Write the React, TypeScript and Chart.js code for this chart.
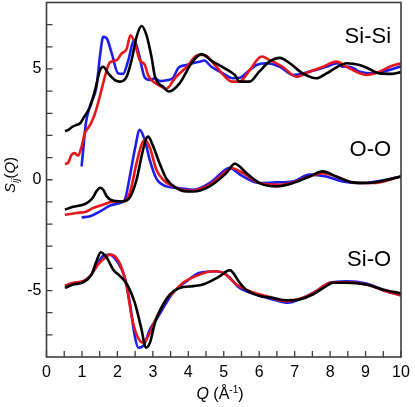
import React, { useEffect, useRef } from 'react';
import { Chart, registerables } from 'chart.js';
Chart.register(...registerables);

// Plotted values (curves already offset: Si-Si +5, O-O 0, Si-O -5)
const siSiBlackQ = [0.52,0.62,0.72,0.85,0.95,1.04,1.23,1.37,1.51,1.6,1.74,1.93,2.07,2.26,2.4,2.54,2.68,2.82,2.96,3.06,3.29,3.45,3.76,4.09,4.37,4.69,5.03,5.31,5.45,5.73,6.0,6.29,6.58,6.86,7.23,7.61,7.9,8.21,8.46,8.83,9.11,9.39,9.76,10.0];
const siSiBlackS = [2.2,2.25,2.38,2.48,2.55,2.78,3.3,4.05,4.95,5.1,4.8,4.5,4.43,4.65,5.4,6.45,6.94,6.53,5.56,4.65,4.2,3.98,4.36,5.26,5.67,5.33,5.03,4.73,4.43,4.43,4.88,5.33,5.5,5.26,4.8,4.58,4.8,5.1,5.26,5.18,5.0,4.8,4.78,4.86];

const siSiRedQ = [0.52,0.6,0.71,0.8,0.89,0.99,1.08,1.17,1.27,1.37,1.51,1.7,1.79,1.98,2.12,2.26,2.37,2.49,2.63,2.77,2.87,3.01,3.24,3.38,3.62,3.96,4.27,4.46,4.75,5.08,5.22,5.45,5.73,6.07,6.3,6.66,7.05,7.42,7.8,8.18,8.46,9.02,9.39,9.68,10.0];
const siSiRedS = [0.72,0.75,1.13,1.2,1.08,1.5,2.1,2.33,2.6,3.0,3.8,4.95,5.3,5.4,5.7,5.9,6.52,6.16,5.4,5.2,4.7,4.43,4.2,4.1,4.58,5.1,5.63,5.63,5.18,4.58,4.43,4.43,4.95,5.56,5.4,5.1,4.65,4.88,5.1,5.33,5.1,4.73,4.88,5.1,5.26];

const siSiBlueQ = [0.99,1.05,1.11,1.23,1.41,1.51,1.6,1.7,1.84,2.02,2.16,2.3,2.47,2.61,2.77,2.92,3.06,3.2,3.43,3.57,3.72,3.95,4.32,4.45,4.65,4.98,5.26,5.45,5.68,5.92,6.2,6.58,6.96,7.42,7.89,8.21,8.35,8.55,8.83,9.2,9.48,10.0];
const siSiBlueS = [0.6,1.6,2.55,3.35,4.2,5.6,6.45,6.38,5.7,4.8,4.78,5.35,6.3,5.65,4.62,4.5,4.58,4.45,4.5,4.6,5.05,5.18,5.33,5.38,5.1,4.8,4.58,4.6,4.88,5.18,5.26,5.1,4.73,4.88,5.1,5.26,5.1,5.1,4.88,4.8,4.88,5.12];

const ooBlackQ = [0.52,0.75,1.03,1.2,1.31,1.42,1.51,1.6,1.7,1.84,2.12,2.35,2.54,2.68,2.8,2.87,2.96,3.06,3.2,3.38,3.67,3.95,4.14,4.6,5.07,5.31,5.64,6.01,6.49,6.95,7.42,7.79,8.17,8.64,9.02,9.39,10.0];
const ooBlackS = [-1.35,-1.22,-1.13,-0.98,-0.8,-0.5,-0.36,-0.45,-0.75,-0.93,-0.98,-0.8,0.0,1.05,1.8,1.95,1.7,1.3,0.7,0.05,-0.38,-0.53,-0.53,-0.3,0.3,0.72,0.3,-0.15,-0.3,-0.15,0.15,0.38,0.15,-0.12,-0.15,-0.08,0.15];

const ooRedQ = [0.52,0.85,1.13,1.31,1.59,1.88,2.16,2.35,2.54,2.68,2.77,2.92,3.1,3.29,3.57,4.04,4.6,5.07,5.22,5.54,6.01,6.49,6.95,7.42,7.79,8.17,8.74,9.2,10.0];
const ooRedS = [-1.58,-1.5,-1.43,-1.28,-1.13,-0.98,-0.98,-0.6,0.75,1.58,1.8,1.43,0.45,0.0,-0.3,-0.5,-0.23,0.38,0.53,0.3,-0.15,-0.23,-0.12,0.15,0.3,0.15,-0.15,-0.15,0.15];

const ooBlueQ = [0.99,1.23,1.51,1.79,2.07,2.21,2.35,2.49,2.63,2.77,2.92,3.1,3.38,3.76,4.14,4.6,5.07,5.15,5.54,6.01,6.49,6.95,7.42,7.89,8.36,8.83,9.3,10.0];
const ooBlueS = [-1.7,-1.65,-1.43,-1.17,-1.05,-0.9,0.15,1.35,2.25,1.8,0.85,0.05,-0.3,-0.38,-0.45,-0.15,0.48,0.53,0.15,-0.15,-0.12,-0.08,0.23,0.15,-0.08,-0.15,-0.08,0.15];

const siOBlackQ = [0.52,0.75,1.03,1.27,1.41,1.53,1.7,1.88,2.12,2.3,2.49,2.68,2.8,2.92,3.06,3.24,3.48,3.76,4.14,4.41,4.89,5.17,5.45,5.64,6.01,6.38,6.77,7.14,7.51,7.89,8.08,8.46,9.02,9.48,10.0];
const siOBlackS = [-4.88,-4.73,-4.63,-4.28,-3.68,-3.27,-3.52,-4.05,-4.42,-4.8,-5.55,-6.75,-7.58,-7.35,-6.45,-5.78,-5.18,-4.88,-4.8,-4.73,-4.35,-4.08,-4.65,-4.98,-5.25,-5.33,-5.44,-5.4,-5.18,-4.8,-4.65,-4.65,-4.73,-4.95,-5.13];

const siORedQ = [0.52,0.75,1.03,1.23,1.45,1.65,1.79,1.93,2.12,2.26,2.4,2.54,2.73,2.92,3.1,3.38,3.57,3.85,4.32,4.69,4.98,5.36,5.73,6.2,6.77,7.23,7.61,7.99,8.46,9.02,9.58,10.0];
const siORedS = [-4.78,-4.65,-4.58,-4.35,-3.83,-3.52,-3.38,-3.45,-3.98,-4.8,-6.15,-6.98,-7.35,-6.9,-6.22,-5.4,-5.1,-4.65,-4.28,-4.13,-4.2,-4.73,-5.03,-5.25,-5.48,-5.33,-5.03,-4.65,-4.63,-4.73,-5.03,-5.22];

const siOBlueQ = [0.99,1.23,1.41,1.59,1.79,2.02,2.21,2.35,2.49,2.59,2.73,2.92,3.1,3.38,3.57,3.95,4.32,4.79,5.07,5.45,5.92,6.38,6.81,7.23,7.61,7.99,8.46,9.02,9.58,10.0];
const siOBlueS = [-4.65,-4.35,-3.9,-3.45,-3.38,-3.75,-4.42,-5.55,-7.05,-7.58,-7.5,-6.75,-6.3,-5.55,-5.1,-4.58,-4.2,-4.13,-4.28,-4.88,-5.18,-5.4,-5.55,-5.33,-5.03,-4.65,-4.58,-4.68,-5.03,-5.22];

const groupLabels = ['Si-Si', 'O-O', 'Si-O'];
const yLabelTicks = [-5, 0, 5];

const BLACK = '#000000';
const RED = 'rgb(232,22,26)';
const BLUE = 'rgb(28,28,236)';

const pts = (q: number[], s: number[]) => q.map((x, i) => ({ x, y: s[i] }));

const decor = {
  id: 'decor',
  afterDraw(chart: any) {
    const { ctx, chartArea: a } = chart;
    const xs = chart.scales.x;
    const ys = chart.scales.y;
    ctx.save();
    ctx.strokeStyle = '#3c3c3c';
    ctx.lineWidth = 1.6;
    ctx.strokeRect(a.left, a.top, a.right - a.left, a.bottom - a.top);
    ctx.lineWidth = 1.3;
    ctx.beginPath();
    for (let i = 0; i <= 20; i++) {
      const px = xs.getPixelForValue(i * 0.5);
      ctx.moveTo(px, a.bottom);
      ctx.lineTo(px, a.bottom - 6);
    }
    for (let v = -7; v <= 7; v++) {
      const py = ys.getPixelForValue(v);
      ctx.moveTo(a.left, py);
      ctx.lineTo(a.left + 6, py);
    }
    ctx.stroke();

    // group labels
    ctx.fillStyle = '#000';
    ctx.font = '22px "Liberation Sans", Arial, sans-serif';
    ctx.textAlign = 'right';
    ctx.textBaseline = 'middle';
    const labelY = [6.46, 1.35, -3.6];
    groupLabels.forEach((t, i) => {
      ctx.fillText(t, xs.getPixelForValue(9.72), ys.getPixelForValue(labelY[i]));
    });

    // x title: Q (Å^-1)
    ctx.textAlign = 'left';
    ctx.textBaseline = 'alphabetic';
    const big = '16px "Liberation Sans", Arial, sans-serif';
    const bigI = 'italic 16px "Liberation Sans", Arial, sans-serif';
    const small = '10px "Liberation Sans", Arial, sans-serif';
    const parts: [string, string, number][] = [
      ['Q', bigI, 0], [' (Å', big, 0], ['-1', small, -6], [')', big, 0],
    ];
    let w = 0;
    parts.forEach(([t, f]) => { ctx.font = f; w += ctx.measureText(t).width; });
    let cx = 220 - w / 2;
    const base = 399;
    parts.forEach(([t, f, dy]) => {
      ctx.font = f;
      ctx.fillText(t, cx, base + dy);
      cx += ctx.measureText(t).width;
    });

    // y title: S_ij(Q), rotated
    ctx.translate(15, 175);
    ctx.rotate(-Math.PI / 2);
    const f15 = '15px "Liberation Sans", Arial, sans-serif';
    const f15i = 'italic 15px "Liberation Sans", Arial, sans-serif';
    const f10i = 'italic 10px "Liberation Sans", Arial, sans-serif';
    const yparts: [string, string, number][] = [
      ['S', f15i, 0], ['ij', f10i, 4], ['(', f15, 0], ['Q', f15i, 0], [')', f15, 0],
    ];
    let yw = 0;
    yparts.forEach(([t, f]) => { ctx.font = f; yw += ctx.measureText(t).width; });
    let u = -yw / 2;
    yparts.forEach(([t, f, dy]) => {
      ctx.font = f;
      ctx.fillText(t, u, dy);
      u += ctx.measureText(t).width;
    });
    ctx.restore();
  },
};

export default function App() {
  const ref = useRef<HTMLCanvasElement>(null);
  useEffect(() => {
    if (!ref.current) return;
    const mk = (q: number[], s: number[], color: string, order: number) => ({
      data: pts(q, s),
      borderColor: color,
      backgroundColor: color,
      borderWidth: 2.6,
      pointRadius: 0,
      fill: false,
      cubicInterpolationMode: 'monotone' as const,
      order,
    });
    const chart = new Chart(ref.current, {
      type: 'line',
      data: {
        datasets: [
          mk(siSiBlackQ, siSiBlackS, BLACK, 0),
          mk(siSiRedQ, siSiRedS, RED, 1),
          mk(siSiBlueQ, siSiBlueS, BLUE, 2),
          mk(ooBlackQ, ooBlackS, BLACK, 0),
          mk(ooRedQ, ooRedS, RED, 1),
          mk(ooBlueQ, ooBlueS, BLUE, 2),
          mk(siOBlackQ, siOBlackS, BLACK, 0),
          mk(siORedQ, siORedS, RED, 1),
          mk(siOBlueQ, siOBlueS, BLUE, 2),
        ],
      },
      options: {
        responsive: false,
        animation: false,
        layout: { padding: { left: 0, right: 14, top: 2.5, bottom: 0 } },
        plugins: { legend: { display: false }, tooltip: { enabled: false } },
        scales: {
          x: {
            type: 'linear',
            min: 0,
            max: 10,
            grid: { display: false, drawTicks: false },
            border: { display: false },
            ticks: {
              stepSize: 1,
              autoSkip: false,
              maxRotation: 0,
              padding: 6,
              color: '#000',
              font: { size: 16, family: '"Liberation Sans", Arial, sans-serif' },
              callback: (v: any) => String(v),
            },
            afterFit: (s: any) => { s.height = 50; s.paddingLeft = 0; s.paddingRight = 0; },
          },
          y: {
            type: 'linear',
            min: -8,
            max: 8,
            grid: { display: false, drawTicks: false },
            border: { display: false },
            ticks: {
              stepSize: 1,
              autoSkip: false,
              padding: 5,
              color: '#000',
              font: { size: 16, family: '"Liberation Sans", Arial, sans-serif' },
              callback: (v: any) => (yLabelTicks.includes(Number(v)) ? String(v) : ''),
            },
            afterFit: (s: any) => { s.width = 46.5; s.paddingTop = 0; s.paddingBottom = 0; },
          },
        },
      },
      plugins: [decor],
    });
    return () => chart.destroy();
  }, []);
  return (
    <div style={{ position: 'fixed', left: 0, top: 0, width: 415, height: 407, background: '#fff' }}>
      <canvas ref={ref} width={415} height={407} />
    </div>
  );
}
